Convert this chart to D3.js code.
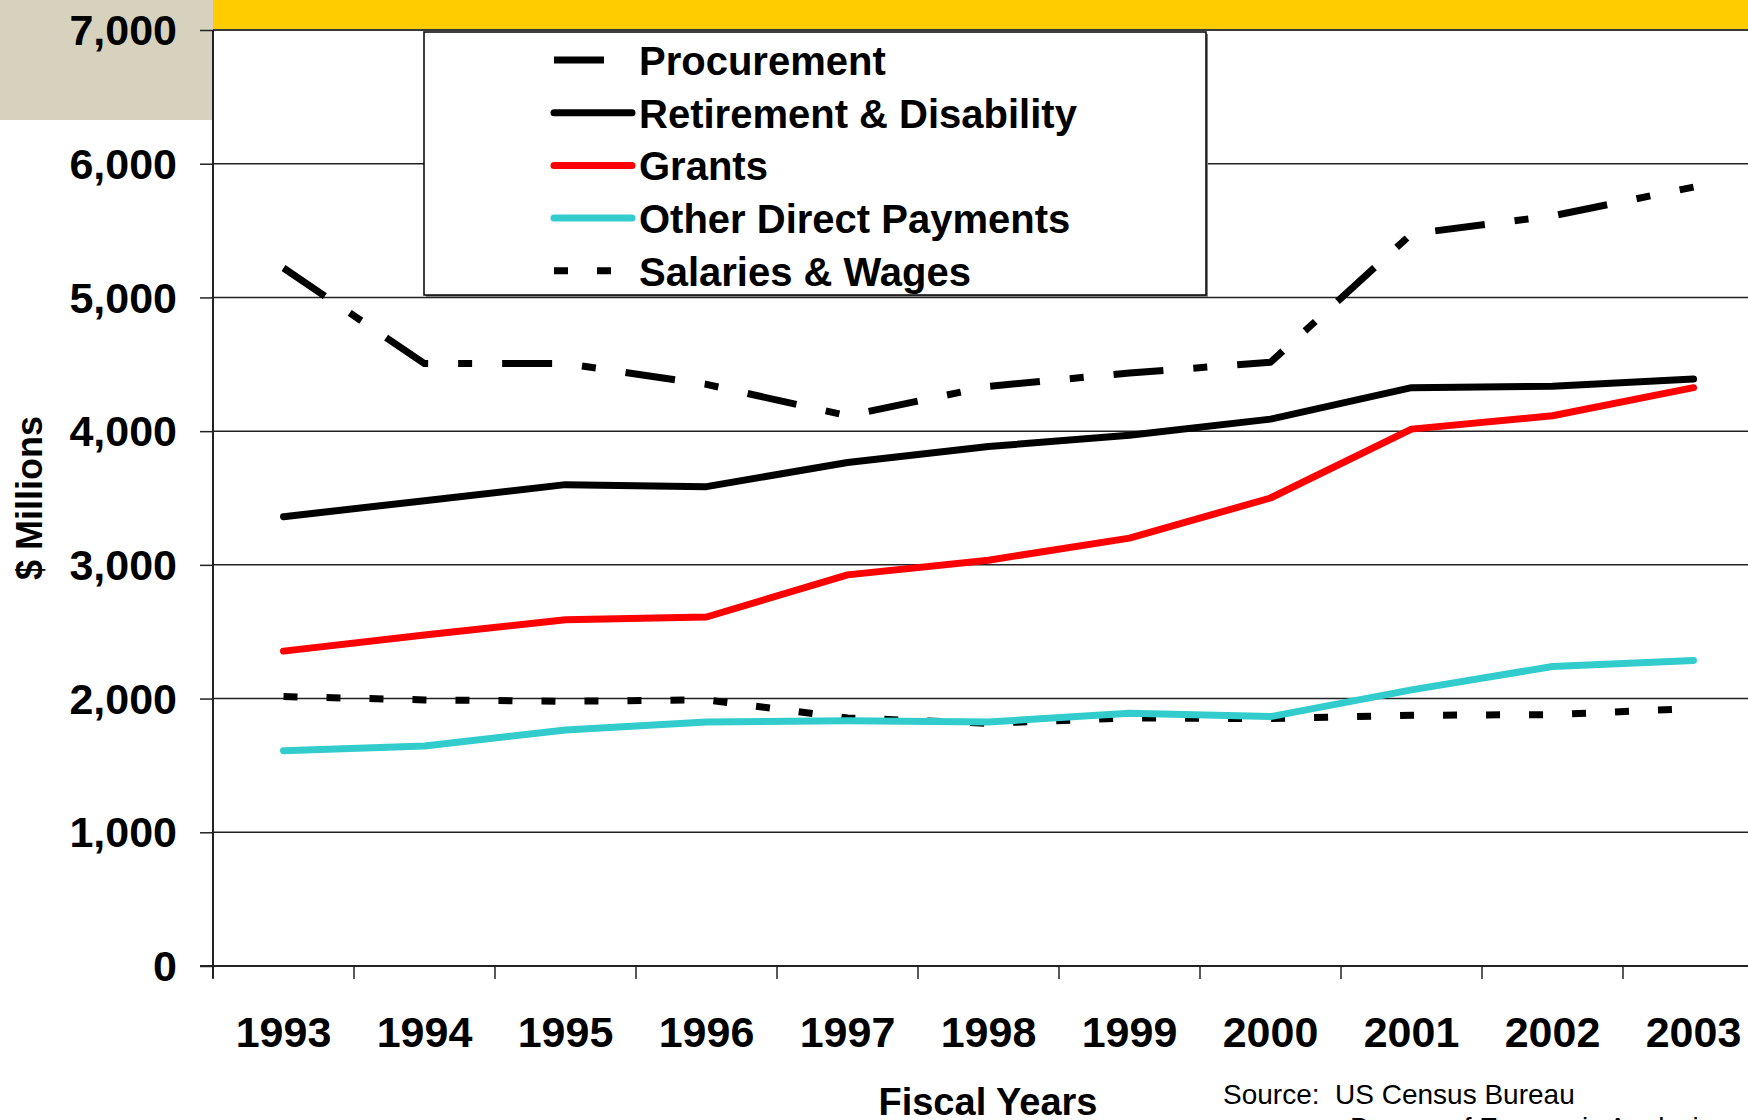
<!DOCTYPE html>
<html>
<head>
<meta charset="utf-8">
<script src="https://cdn.jsdelivr.net/npm/d3@7"></script>
<style>
  body { margin: 0; background: #fff; }
  text { font-family: "Liberation Sans", Arial, sans-serif; }
</style>
</head>
<body>
<div id="chart"></div>
<script>
var years = [1993, 1994, 1995, 1996, 1997, 1998, 1999, 2000, 2001, 2002, 2003];

var procurement = [5220, 4505, 4505, 4350, 4115, 4335, 4435, 4515, 5475, 5610, 5825];
var retirement = [3360, 3480, 3600, 3585, 3765, 3885, 3970, 4090, 4325, 4335, 4390];
var grants = [2355, 2475, 2590, 2610, 2925, 3035, 3200, 3500, 4015, 4115, 4325];
var otherDirect = [1610, 1645, 1765, 1825, 1835, 1825, 1890, 1865, 2065, 2240, 2285];
var salaries = [2015, 1990, 1980, 1990, 1855, 1815, 1855, 1850, 1875, 1880, 1925];

var yTicks = [0, 1000, 2000, 3000, 4000, 5000, 6000, 7000];

var seriesNames = ["Procurement", "Retirement & Disability", "Grants", "Other Direct Payments", "Salaries & Wages"];

(function () {
    var width = 1748,
        height = 1120;

    var left = 213,
        top = 30,
        bottom = 966,
        band = 141;

    var series = [
        { name: seriesNames[0], values: procurement, color: "#000", dash: "50,30,14,30", cap: "butt" },
        { name: seriesNames[1], values: retirement, color: "#000", dash: null, cap: "round" },
        { name: seriesNames[2], values: grants, color: "#ff0000", dash: null, cap: "round" },
        { name: seriesNames[3], values: otherDirect, color: "#33cccc", dash: null, cap: "round" },
        { name: seriesNames[4], values: salaries, color: "#000", dash: "14,29", cap: "butt" }
    ];

    var svg = d3.select("#chart")
        .append("svg")
        .attr("width", width)
        .attr("height", height)
        .style("display", "block")

    svg.append("rect")
        .attr("width", width)
        .attr("height", height)
        .attr("fill", "#fff")

    // header blocks
    svg.append("rect")
        .attr("x", 0).attr("y", 0)
        .attr("width", left).attr("height", 120)
        .attr("fill", "#d6d2be")
    svg.append("rect")
        .attr("x", left).attr("y", 0)
        .attr("width", width - left).attr("height", top - 1)
        .attr("fill", "#ffcc00")
    svg.append("line")
        .attr("x1", left).attr("x2", width)
        .attr("y1", top).attr("y2", top)
        .attr("stroke", "#808080").attr("stroke-width", 2)

    var x = d3.scaleBand()
        .domain(years)
        .range([left, left + band * years.length])
        .padding(0)

    var y = d3.scaleLinear()
        .domain([0, 7000])
        .range([bottom, top])

    // gridlines
    svg.append("g")
        .selectAll("line")
        .data(yTicks.slice(1))
        .enter().append("line")
        .attr("x1", left).attr("x2", width)
        .attr("y1", function (d) { return y(d) })
        .attr("y2", function (d) { return y(d) })
        .attr("stroke", "#222")
        .attr("stroke-width", 1.5)

    // y axis
    var yAxis = svg.append("g")
        .attr("transform", "translate(" + left + ",0)")
        .call(d3.axisLeft(y).tickValues(yTicks).tickSize(13).tickPadding(23).tickFormat(d3.format(",")))
    yAxis.select(".domain").remove()
    yAxis.selectAll("line").attr("stroke", "#222").attr("stroke-width", 1.5)
    yAxis.selectAll("text")
        .attr("dy", "0.34em")
        .style("font-size", "43px")
        .style("font-weight", "bold")
        .attr("fill", "#000")

    svg.append("line")
        .attr("x1", left).attr("x2", left)
        .attr("y1", top).attr("y2", bottom + 12)
        .attr("stroke", "#222").attr("stroke-width", 2)

    // x axis
    svg.append("line")
        .attr("x1", left - 13).attr("x2", width)
        .attr("y1", bottom).attr("y2", bottom)
        .attr("stroke", "#222").attr("stroke-width", 2)

    svg.append("g")
        .selectAll("line")
        .data(years)
        .enter().append("line")
        .attr("x1", function (d) { return x(d) })
        .attr("x2", function (d) { return x(d) })
        .attr("y1", bottom).attr("y2", bottom + 13)
        .attr("stroke", "#222").attr("stroke-width", 1.5)

    svg.append("g")
        .selectAll("text")
        .data(years)
        .enter().append("text")
        .attr("x", function (d) { return x(d) + x.bandwidth() / 2 })
        .attr("y", 1047)
        .attr("text-anchor", "middle")
        .style("font-size", "43px")
        .style("font-weight", "bold")
        .text(function (d) { return d })

    // lines
    var line = d3.line()
        .x(function (d, i) { return x(years[i]) + x.bandwidth() / 2 })
        .y(function (d) { return y(d) })

    svg.append("g")
        .selectAll("path")
        .data(series.slice().reverse())
        .enter().append("path")
        .attr("d", function (d) { return line(d.values) })
        .attr("fill", "none")
        .attr("stroke", function (d) { return d.color })
        .attr("stroke-width", 7)
        .attr("stroke-linecap", function (d) { return d.cap })
        .attr("stroke-linejoin", "round")
        .attr("stroke-dasharray", function (d) { return d.dash })

    // legend
    var legend = svg.append("g")
    legend.append("rect")
        .attr("x", 426).attr("y", 34)
        .attr("width", 782).attr("height", 263)
        .attr("fill", "#808080")
    legend.append("rect")
        .attr("x", 424).attr("y", 32)
        .attr("width", 782).attr("height", 263)
        .attr("fill", "#fff")
        .attr("stroke", "#000")
        .attr("stroke-width", 1.5)

    var items = legend.selectAll(".item")
        .data(series)
        .enter().append("g")
        .attr("class", "item")
        .attr("transform", function (d, i) { return "translate(0," + (60 + i * 52.7) + ")" })

    items.append("line")
        .attr("x1", 554).attr("x2", 632)
        .attr("stroke", function (d) { return d.color })
        .attr("stroke-width", 7)
        .attr("stroke-linecap", function (d) { return d.dash ? "butt" : "round" })
        .attr("stroke-dasharray", function (d) { return d.dash ? d.dash.split(",").slice(0, 2).join(",") : null })

    items.append("text")
        .attr("x", 639)
        .attr("y", 15)
        .style("font-size", "40px")
        .style("font-weight", "bold")
        .text(function (d) { return d.name })

    // titles
    svg.append("text")
        .attr("transform", "translate(42,498) rotate(-90)")
        .attr("text-anchor", "middle")
        .style("font-size", "36px")
        .style("font-weight", "bold")
        .text("$ Millions")

    svg.append("text")
        .attr("x", 988).attr("y", 1115)
        .attr("text-anchor", "middle")
        .style("font-size", "38px")
        .style("font-weight", "bold")
        .text("Fiscal Years")

    svg.append("text")
        .attr("x", 1223).attr("y", 1104)
        .style("font-size", "28px")
        .attr("xml:space", "preserve")
        .text("Source:  US Census Bureau")

    svg.append("text")
        .attr("x", 1350).attr("y", 1137)
        .style("font-size", "28px")
        .text("Bureau of Economic Analysis")
})();
</script>
</body>
</html>
